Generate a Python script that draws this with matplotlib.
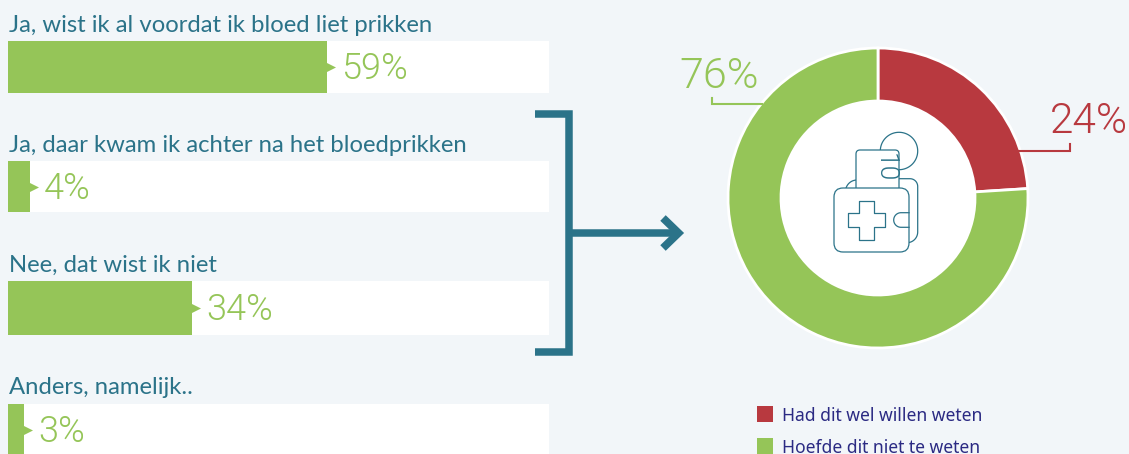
#!/usr/bin/env python3
"""Bloedprikken: staafjes links, donut rechts."""

import numpy as np
import matplotlib
matplotlib.use('Agg')
import matplotlib.pyplot as plt
from matplotlib.patches import Rectangle, FancyBboxPatch, Polygon, Circle

# data
categories = ['Ja, wist ik al voordat ik bloed liet prikken',
              'Ja, daar kwam ik achter na het bloedprikken',
              'Nee, dat wist ik niet',
              'Anders, namelijk..']
values = [59, 4, 34, 3]
value_labels = ['59%', '4%', '34%', '3%']
donut_labels = ['Had dit wel willen weten', 'Hoefde dit niet te weten']
donut_values = [24, 76]
donut_value_labels = ['24%', '76%']
icon_number = '10'

# kleuren
BG = '#f2f6f9'
GREEN = '#95c558'
RED = '#b8393f'
TEAL = '#2b7389'
NAVY = '#2b2a83'

W, H = 1129, 454
LABEL_FONT = 'Lato'
VALUE_FONT = 'Roboto'

fig = plt.figure(figsize=(W / 100, H / 100), dpi=100, facecolor=BG)

# staafjes: x in procenten, y in pixels van boven
track_top = [41, 161, 281, 404]
track_height = [52, 51, 54, 52]
label_base = [32, 152, 272, 394]
value_base = [79, 199, 320, 442]

ax = fig.add_axes([8 / W, 0, 541 / W, 1])
ax.set_xlim(0, 100)
ax.set_ylim(H, 0)
ax.axis('off')

centers = [t + h / 2 for t, h in zip(track_top, track_height)]
ax.barh(centers, [100] * len(values), height=track_height, color='white')
ax.barh(centers, values, height=track_height, color=GREEN)
ax.scatter(values, centers, marker='>', s=150, color=GREEN, linewidths=0, zorder=3, clip_on=False)

for i in range(len(values)):
    ax.annotate(categories[i], (0, label_base[i]), xytext=(1, 0), textcoords='offset pixels',
                fontsize=17.2, family=LABEL_FONT, color=TEAL, va='baseline', annotation_clip=False)
    ax.annotate(value_labels[i], (values[i], value_base[i]), xytext=(14, 0), textcoords='offset pixels',
                fontsize=26, family=VALUE_FONT, weight=300, color=GREEN, va='baseline',
                annotation_clip=False)

# donut
cx, cy, radius = 878, 198, 150
side = 320
ax_d = fig.add_axes([(cx - side / 2) / W, 1 - (cy + side / 2) / H, side / W, side / H])
ax_d.pie(donut_values, colors=[RED, GREEN], startangle=90, counterclock=False, radius=1,
         wedgeprops=dict(width=53 / radius, edgecolor='white', linewidth=2))
ax_d.add_patch(Circle((0, 0), 97 / radius, fc='white', ec='none'))
ax_d.set_xlim(-side / 2 / radius, side / 2 / radius)
ax_d.set_ylim(-side / 2 / radius, side / 2 / radius)

# laag in pixels voor haak, pijl, icoon en legenda
ov = fig.add_axes([0, 0, 1, 1], facecolor='none')
ov.set_xlim(0, W)
ov.set_ylim(H, 0)
ov.axis('off')

# haak + pijl
ov.plot([535, 568.5, 568.5, 535], [114, 114, 351.5, 351.5], color=TEAL, lw=5.4,
        solid_joinstyle='miter', solid_capstyle='butt')
ov.plot([572, 678], [233, 233], color=TEAL, lw=5.4, solid_capstyle='butt')
ov.plot([663, 678.5, 663], [218, 233, 248], color=TEAL, lw=5.6,
        solid_joinstyle='miter', solid_capstyle='butt')

# donut labels met lijntje
ov.plot([1018, 1070, 1070], [151, 151, 144], color=RED, lw=1.5, solid_joinstyle='miter')
ov.plot([762, 712, 712], [104, 104, 98], color=GREEN, lw=1.5, solid_joinstyle='miter')
ov.text(1050, 133, donut_value_labels[0], fontsize=30.5, family=VALUE_FONT, weight=300,
        color=RED, va='baseline')
ov.text(679, 88, donut_value_labels[1], fontsize=31, family=VALUE_FONT, weight=300,
        color=GREEN, va='baseline')

# icoon
lw_icon = 0.9
t = np.radians(np.linspace(180, -90, 80))
ov.plot(899 + 18.7 * np.cos(t), 151 - 18.7 * np.sin(t), color=TEAL, lw=lw_icon)
ov.add_patch(FancyBboxPatch((859, 153), 37, 60, boxstyle='round,pad=3,rounding_size=4',
                            fc='white', ec=TEAL, lw=lw_icon, zorder=3))
ov.text(885, 168, icon_number, fontsize=19, family=VALUE_FONT, weight=300, color=TEAL,
        rotation=-90, ha='center', va='center', zorder=4)
# achterkant portemonnee
t = np.radians(np.linspace(90, 0, 12))
back_x = np.r_[899, 910 + 7.7 * np.cos(t)]
back_y = np.r_[178.7, 186.4 - 7.7 * np.sin(t)]
t = np.radians(np.linspace(0, -80, 12))
back_x = np.r_[back_x, 907 + 10.7 * np.cos(t)]
back_y = np.r_[back_y, 232 - 10.7 * np.sin(t)]
ov.plot(back_x, back_y, color=TEAL, lw=lw_icon, zorder=2)
t = np.radians(np.linspace(165, 90, 12))
ov.plot(857 + 11.5 * np.cos(t), 191.5 - 11.5 * np.sin(t), color=TEAL, lw=lw_icon, zorder=2)
# voorkant
ov.add_patch(FancyBboxPatch((842, 196), 59, 48, boxstyle='round,pad=8,rounding_size=9',
                            fc='white', ec=TEAL, lw=lw_icon, zorder=5))
cross_x = [859, 873.7, 873.7, 884.7, 884.7, 873.7, 873.7, 859, 859, 848, 848, 859]
cross_y = [200.7, 200.7, 213, 213, 227.3, 227.3, 240, 240, 227.3, 227.3, 213, 213]
ov.add_patch(Polygon(np.column_stack([cross_x, cross_y]), closed=True, fc='none', ec=TEAL,
                     lw=lw_icon, joinstyle='round', zorder=6))
t = np.radians(np.linspace(90, 270, 30))
clasp_x = np.r_[909, 901 + 7.3 * np.cos(t), 909]
clasp_y = np.r_[212.7, 220 - 7.3 * np.sin(t), 227.3]
ov.plot(clasp_x, clasp_y, color=TEAL, lw=lw_icon, zorder=6)

# legenda
legend_top = [406, 438]
legend_base = [421, 453]
for i, lab in enumerate(donut_labels):
    ov.add_patch(Rectangle((757, legend_top[i]), 16, 16, fc=[RED, GREEN][i], ec='none'))
    ov.text(781.5, legend_base[i], lab, fontsize=12.6, family='Noto Sans', color=NAVY, va='baseline')

fig.savefig('out.png', dpi=100, facecolor=BG)
